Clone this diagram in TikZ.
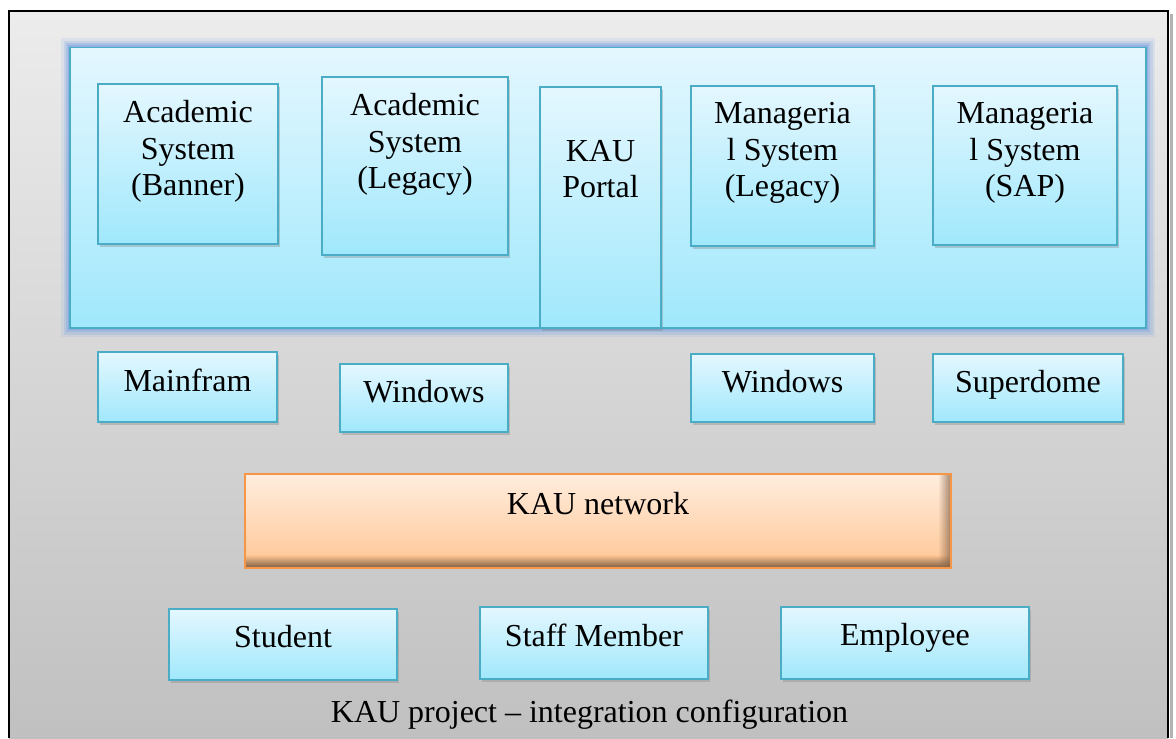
\documentclass[tikz,border=0pt]{standalone}
\usepackage{fontspec}
\setmainfont{Liberation Serif}
\usepackage{tikz}
\usepackage{xcolor}
\usetikzlibrary{positioning,shadows,fadings}
\newcommand{\pxl}{0.75pt}
\newcommand{\textgap}{12.75pt}
\definecolor{paneltop}{RGB}{236,236,236}
\definecolor{panelbottom}{RGB}{192,192,192}
\definecolor{boxtop}{RGB}{228,247,254}
\definecolor{boxbottom}{RGB}{160,232,252}
\definecolor{boxedge}{RGB}{75,172,198}
\definecolor{glowcolor}{RGB}{110,155,225}
\definecolor{nettop}{RGB}{255,237,222}
\definecolor{netbottom}{RGB}{255,198,148}
\definecolor{netedge}{RGB}{247,150,70}
\definecolor{netshadow}{RGB}{135,100,72}

\begin{document}
\begin{tikzpicture}[x=0.75pt, y=-0.75pt,
    sysbox/.style={draw=boxedge, line width=1.5*\pxl, top color=boxtop, bottom color=boxbottom,
        drop shadow={opacity=.35, shadow xshift=1.5pt, shadow yshift=-2.2pt}},
    panelbox/.style={draw=boxedge, line width=1.5*\pxl, top color=boxtop, bottom color=boxbottom},
    netbox/.style={draw=netedge, line width=1.5*\pxl, outer sep=0pt, top color=nettop, bottom color=netbottom},
    boxtext/.style={inner sep=0pt, align=center, font=\rmfamily\fontsize{24}{27.4}\selectfont}]
    \useasboundingbox (0, 0) rectangle (1176, 738);

    % background
    \fill[top color=paneltop, bottom color=panelbottom] (9, 11) rectangle (1168, 738);
    \draw[black!30, line width=3*\pxl] (1171, 14) -- (1171, 738);
    \draw[line width=2*\pxl] (9, 738) -- (9, 11) -- (1168, 11) -- (1168, 738);

    % systems panel
    \foreach \w/\o in {18/.12, 13/.2, 8/.3, 4/.4}
        \draw[glowcolor, line width=\w*\pxl, opacity=\o] (70, 47.5) rectangle (1146, 328);
    \node[panelbox, minimum width=1076*\pxl, minimum height=280.5*\pxl] (panel) at (608, 187.75) {};

    % systems
    \node[sysbox, minimum width=180*\pxl, minimum height=160*\pxl] (banner) at (188, 164) {};
    \node[sysbox, minimum width=186*\pxl, minimum height=178*\pxl] (acadlegacy) at (415, 166) {};
    \node[sysbox, minimum width=121*\pxl, minimum height=241*\pxl] (portal) at (600.5, 207.5) {};
    \node[sysbox, minimum width=183*\pxl, minimum height=160*\pxl] (mgrlegacy) at (782.5, 166) {};
    \node[sysbox, minimum width=184*\pxl, minimum height=159*\pxl] (sap) at (1025, 165.5) {};

    \node[boxtext, below=\textgap of banner.north] (bannerlabel) {Academic\\System\\(Banner)};
    \node[boxtext, below=\textgap of acadlegacy.north] (acadlegacylabel) {Academic\\System\\(Legacy)};
    \node[boxtext, below=40.1pt of portal.north] (portallabel) {KAU\\Portal};
    \node[boxtext, below=\textgap of mgrlegacy.north] (mgrlegacylabel) {Manageria\\l System\\(Legacy)};
    \node[boxtext, below=\textgap of sap.north] (saplabel) {Manageria\\l System\\(SAP)};

    % platforms
    \node[sysbox, minimum width=179*\pxl, minimum height=70*\pxl] (mainframe) at (187.5, 387) {};
    \node[sysbox, minimum width=168*\pxl, minimum height=68*\pxl] (winacad) at (424, 398) {};
    \node[sysbox, minimum width=183*\pxl, minimum height=68*\pxl] (winmgr) at (782.5, 388) {};
    \node[sysbox, minimum width=190*\pxl, minimum height=68*\pxl] (superdome) at (1028, 388) {};

    \node[boxtext, below=\textgap of mainframe.north] (mainframelabel) {Mainfram};
    \node[boxtext, below=\textgap of winacad.north] (winacadlabel) {Windows};
    \node[boxtext, below=\textgap of winmgr.north] (winmgrlabel) {Windows};
    \node[boxtext, below=\textgap of superdome.north] (superdomelabel) {Superdome};

    % network
    \node[netbox, minimum width=706*\pxl, minimum height=94*\pxl] (network) at (598, 521) {};
    \fill[top color=netbottom, bottom color=netshadow] (246, 555) rectangle (950, 567);
    \fill[netshadow, path fading=west, opacity=.7] (938, 475) rectangle (950, 567);
    \draw[netedge, line width=1.5*\pxl] (network.north west) rectangle (network.south east);
    \node[boxtext, below=13.5pt of network.north] (networklabel) {KAU network};

    % users
    \node[sysbox, minimum width=228*\pxl, minimum height=71*\pxl] (student) at (283, 644.5) {};
    \node[sysbox, minimum width=228*\pxl, minimum height=72*\pxl] (staff) at (594, 643) {};
    \node[sysbox, minimum width=248*\pxl, minimum height=72*\pxl] (employee) at (905, 643) {};

    \node[boxtext, below=\textgap of student.north] (studentlabel) {Student};
    \node[boxtext, below=\textgap of staff.north] (stafflabel) {Staff Member};
    \node[boxtext, below=\textgap of employee.north] (employeelabel) {Employee};

    % caption
    \node[boxtext, anchor=base] (caption) at (589.5, 722) {KAU project – integration configuration};
\end{tikzpicture}
\end{document}
